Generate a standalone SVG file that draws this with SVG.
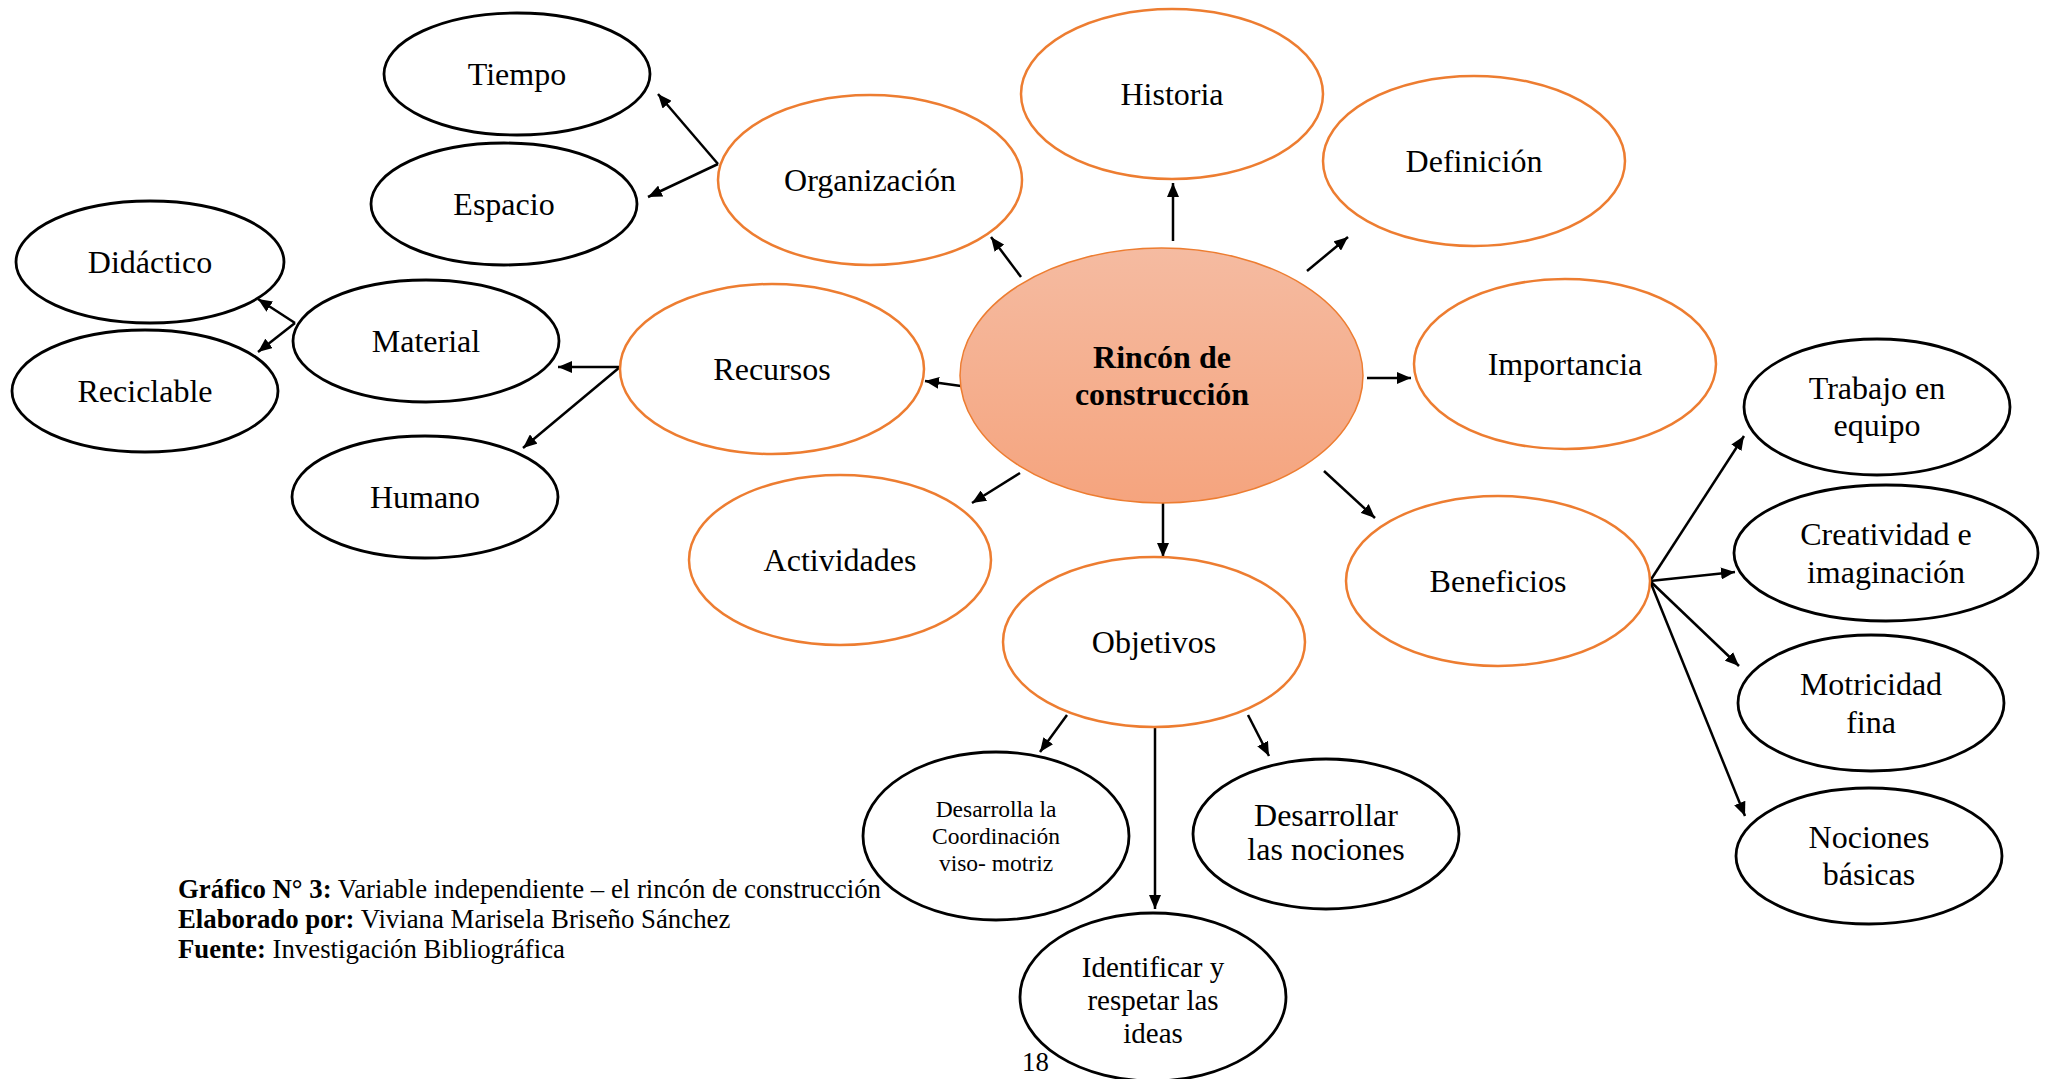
<svg xmlns="http://www.w3.org/2000/svg" width="2051" height="1079" viewBox="0 0 2051 1079">
<style>
.o{fill:#fff;stroke:#ED7D31;stroke-width:2.5}
.b{fill:#fff;stroke:#000;stroke-width:2.8}
.t{font-family:"Liberation Serif","Times New Roman",serif;font-size:32px;fill:#000;text-anchor:middle}
.s{font-size:23.5px}
.m{font-size:29px}
.c{font-family:"Liberation Serif","Times New Roman",serif;font-size:26.8px;fill:#000}
.a{stroke:#000;stroke-width:2.5;fill:none;marker-end:url(#ah)}
</style>
<defs>
<marker id="ah" viewBox="0 0 14 12" refX="14" refY="6" markerWidth="14" markerHeight="12" markerUnits="userSpaceOnUse" orient="auto">
<path d="M0,0 L14,6 L0,12 z" fill="#000"/>
</marker>
<linearGradient id="g" x1="0" y1="0" x2="0" y2="1">
<stop offset="0" stop-color="#F5BBA1"/>
<stop offset="1" stop-color="#F5A47E"/>
</linearGradient>
</defs>
<rect width="2051" height="1079" fill="#fff"/>
<g id="connectors">
<line class="a" x1="1173" y1="241" x2="1173" y2="183"/>
<line class="a" x1="1021" y1="277" x2="991" y2="237"/>
<line class="a" x1="1307" y1="271" x2="1348" y2="237"/>
<line class="a" x1="1367" y1="378" x2="1411" y2="378"/>
<line class="a" x1="1324" y1="471" x2="1375" y2="518"/>
<line class="a" x1="1163" y1="503" x2="1163" y2="557"/>
<line class="a" x1="1020" y1="473" x2="972" y2="503"/>
<line class="a" x1="961" y1="386" x2="925" y2="381"/>
<line class="a" x1="718" y1="164" x2="658" y2="94"/>
<line class="a" x1="718" y1="164" x2="648" y2="197"/>
<line class="a" x1="620" y1="367" x2="558" y2="367"/>
<line class="a" x1="620" y1="367" x2="523" y2="448"/>
<line class="a" x1="295" y1="323" x2="258" y2="299"/>
<line class="a" x1="295" y1="323" x2="258" y2="352"/>
<line class="a" x1="1650" y1="581" x2="1744" y2="436"/>
<line class="a" x1="1650" y1="581" x2="1735" y2="572"/>
<line class="a" x1="1650" y1="581" x2="1739" y2="666"/>
<line class="a" x1="1650" y1="581" x2="1745" y2="816"/>
<line class="a" x1="1067" y1="715" x2="1040" y2="752"/>
<line class="a" x1="1155" y1="727" x2="1155" y2="909"/>
<line class="a" x1="1248" y1="715" x2="1269" y2="756"/>
</g>
<g id="central">
<ellipse cx="1161.5" cy="375.5" rx="201.5" ry="127.5" fill="url(#g)" stroke="#ED7D31" stroke-width="1.5"/>
<text class="t" x="1162" y="368" font-weight="bold" font-size="32">Rincón de</text>
<text class="t" x="1162" y="405" font-weight="bold" font-size="32">construcción</text>
</g>
<g id="historia"><ellipse class="o" cx="1172" cy="94" rx="151" ry="85"/><text class="t" x="1172" y="105">Historia</text></g>
<g id="organizacion"><ellipse class="o" cx="870" cy="180" rx="152" ry="85"/><text class="t" x="870" y="191">Organización</text></g>
<g id="definicion"><ellipse class="o" cx="1474" cy="161" rx="151" ry="85"/><text class="t" x="1474" y="172">Definición</text></g>
<g id="importancia"><ellipse class="o" cx="1565" cy="364" rx="151" ry="85"/><text class="t" x="1565" y="375">Importancia</text></g>
<g id="recursos"><ellipse class="o" cx="772" cy="369" rx="152" ry="85"/><text class="t" x="772" y="380">Recursos</text></g>
<g id="actividades"><ellipse class="o" cx="840" cy="560" rx="151" ry="85"/><text class="t" x="840" y="571">Actividades</text></g>
<g id="objetivos"><ellipse class="o" cx="1154" cy="642" rx="151" ry="85"/><text class="t" x="1154" y="653">Objetivos</text></g>
<g id="beneficios"><ellipse class="o" cx="1498" cy="581" rx="152" ry="85"/><text class="t" x="1498" y="592">Beneficios</text></g>
<g id="tiempo"><ellipse class="b" cx="517" cy="74" rx="133" ry="61"/><text class="t" x="517" y="85">Tiempo</text></g>
<g id="espacio"><ellipse class="b" cx="504" cy="204" rx="133" ry="61"/><text class="t" x="504" y="215">Espacio</text></g>
<g id="didactico"><ellipse class="b" cx="150" cy="262" rx="134" ry="61"/><text class="t" x="150" y="273">Didáctico</text></g>
<g id="reciclable"><ellipse class="b" cx="145" cy="391" rx="133" ry="61"/><text class="t" x="145" y="402">Reciclable</text></g>
<g id="material"><ellipse class="b" cx="426" cy="341" rx="133" ry="61"/><text class="t" x="426" y="352">Material</text></g>
<g id="humano"><ellipse class="b" cx="425" cy="497" rx="133" ry="61"/><text class="t" x="425" y="508">Humano</text></g>
<g id="trabajo"><ellipse class="b" cx="1877" cy="407" rx="133" ry="68"/><text class="t" x="1877" y="399">Trabajo en</text><text class="t" x="1877" y="436">equipo</text></g>
<g id="creatividad"><ellipse class="b" cx="1886" cy="553" rx="152" ry="68"/><text class="t" x="1886" y="545">Creatividad e</text><text class="t" x="1886" y="583">imaginación</text></g>
<g id="motricidad"><ellipse class="b" cx="1871" cy="703" rx="133" ry="68"/><text class="t" x="1871" y="695">Motricidad</text><text class="t" x="1871" y="733">fina</text></g>
<g id="nociones"><ellipse class="b" cx="1869" cy="856" rx="133" ry="68"/><text class="t" x="1869" y="848">Nociones</text><text class="t" x="1869" y="885">básicas</text></g>
<g id="desarrolla"><ellipse class="b" cx="996" cy="836" rx="133" ry="84"/><text class="t s" x="996" y="817">Desarrolla la</text><text class="t s" x="996" y="844">Coordinación</text><text class="t s" x="996" y="871">viso- motriz</text></g>
<g id="desarrollar"><ellipse class="b" cx="1326" cy="834" rx="133" ry="75"/><text class="t" x="1326" y="826" font-size="30">Desarrollar</text><text class="t" x="1326" y="860" font-size="30">las nociones</text></g>
<g id="identificar"><ellipse class="b" cx="1153" cy="997" rx="133" ry="84"/><text class="t m" x="1153" y="977">Identificar y</text><text class="t m" x="1153" y="1010">respetar las</text><text class="t m" x="1153" y="1043">ideas</text></g>
<g id="caption">
<text class="c" x="178" y="898"><tspan font-weight="bold">Gráfico N° 3:</tspan> Variable independiente – el rincón de construcción</text>
<text class="c" x="178" y="928"><tspan font-weight="bold">Elaborado por:</tspan> Viviana Marisela Briseño Sánchez</text>
<text class="c" x="178" y="958"><tspan font-weight="bold">Fuente:</tspan> Investigación Bibliográfica</text>
<text class="c" x="1022" y="1071" font-size="29">18</text>
</g>
</svg>
